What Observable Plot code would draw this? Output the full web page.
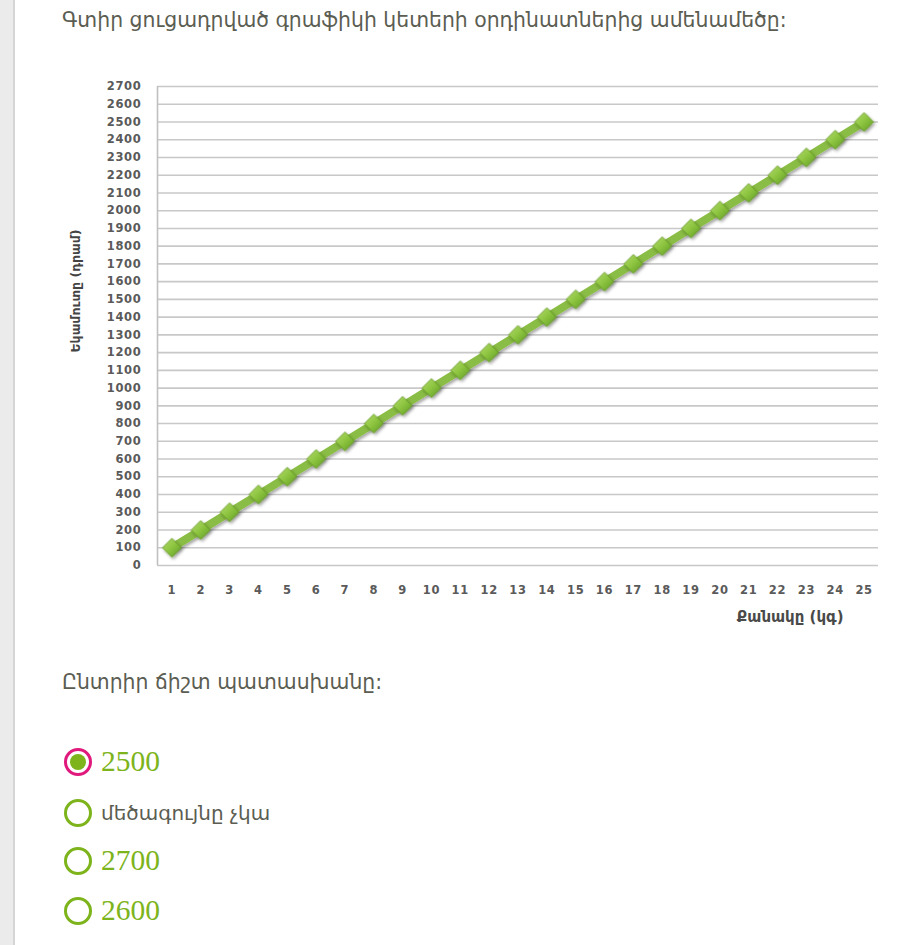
<!DOCTYPE html>
<html><head><meta charset="utf-8">
<script src="https://cdn.jsdelivr.net/npm/d3@7"></script>
<script src="https://cdn.jsdelivr.net/npm/@observablehq/plot@0.6"></script>
<style>
body{margin:0;background:#fff;font-family:"DejaVu Sans",sans-serif;}
#page{position:relative;width:901px;height:945px;overflow:hidden;background:#fff;}
#strip{position:absolute;left:0;top:0;width:13px;height:945px;background:#ebebeb;border-right:2px solid #d6d6d6;}
.txt{position:absolute;color:#5b5d52;white-space:nowrap;line-height:1;}
#chart{position:absolute;left:50px;top:70px;}
.opt{position:absolute;left:64px;height:30px;display:flex;align-items:center;}
.radio{width:22px;height:22px;border:3px solid #7db41c;border-radius:50%;}
.radio.sel{width:16px;height:16px;border-color:#e0197d;padding:3px;background:#7db41c;background-clip:content-box;}
.lab{margin-left:9px;line-height:1;}
.num{font-family:"Liberation Serif",serif;font-size:29.5px;color:#7db41c;}
.word{font-size:20px;color:#5b5d52;}
</style></head>
<body><div id="page">
<div id="strip"></div>
<div class="txt" id="title" style="left:62px;top:10px;font-size:20.4px;">Գտիր ցուցադրված գրաֆիկի կետերի օրդինատներից ամենամեծը:</div>
<div id="chart"></div>
<div class="txt" style="left:62px;top:672px;font-size:20.4px;">Ընտրիր ճիշտ պատասխանը:</div>
<div class="opt" style="top:747px;"><div class="radio sel"></div><span class="lab num">2500</span></div>
<div class="opt" style="top:798px;"><div class="radio"></div><span class="lab word">մեծագույնը չկա</span></div>
<div class="opt" style="top:846px;"><div class="radio"></div><span class="lab num">2700</span></div>
<div class="opt" style="top:896px;"><div class="radio"></div><span class="lab num">2600</span></div>
</div>
<script>
const quantities = [1,2,3,4,5,6,7,8,9,10,11,12,13,14,15,16,17,18,19,20,21,22,23,24,25];
const incomes = [100,200,300,400,500,600,700,800,900,1000,1100,1200,1300,1400,1500,1600,1700,1800,1900,2000,2100,2200,2300,2400,2500];
const yTicks = [0,100,200,300,400,500,600,700,800,900,1000,1100,1200,1300,1400,1500,1600,1700,1800,1900,2000,2100,2200,2300,2400,2500,2600,2700];
const xLabel = "Քանակը (կգ)";
const yLabel = "Եկամուտը (դրամ)";

const data = quantities.map((q, i) => ({q, v: incomes[i]}));

const chart = Plot.plot({
  width: 840,
  height: 570,
  marginTop: 16,
  marginBottom: 75,
  marginLeft: 107,
  marginRight: 12,
  style: {fontFamily: "DejaVu Sans, sans-serif", background: "transparent", overflow: "visible"},
  x: {type: "linear", domain: [0.5, 25.5]},
  y: {domain: [0, 2700]},
  marks: [
    Plot.gridY(yTicks, {stroke: "#c8c8c8", strokeOpacity: 1, strokeWidth: 1.6}),
    Plot.ruleX([0.5], {stroke: "#c0c0c0", strokeWidth: 1.6}),
    Plot.axisY(yTicks, {tickSize: 0, tickPadding: 16, fontSize: 11.5, fontWeight: "bold", fill: "#5a5a5a", label: null, tickFormat: d => String(d)}),
    Plot.axisX(quantities, {tickSize: 0, tickPadding: 20, fontSize: 11.5, fontWeight: "bold", fill: "#5a5a5a", label: null, tickFormat: d => String(d)}),
    Plot.text([xLabel], {frameAnchor: "bottom-right", textAnchor: "end", dx: -35, dy: 56, fontSize: 15, fontWeight: "bold", fill: "#4a4a4a", text: d => d}),
    Plot.text([yLabel], {frameAnchor: "left", textAnchor: "middle", rotate: -90, dx: -82, dy: -35, fontSize: 12.5, fontWeight: "bold", fill: "#444", text: d => d}),
    Plot.line(data, {x: "q", y: "v", stroke: "#8abd44", strokeWidth: 8, strokeLinecap: "round"}),
    Plot.dot(data, {x: "q", y: "v", symbol: "diamond2", r: 8.5, fill: "#8cc43f", stroke: "#5f9422", strokeWidth: 0.8})
  ]
});

const svg = d3.select(chart);
svg.selectAll("g[aria-label='y-axis tick label'] text, g[aria-label='x-axis tick label'] text").style("letter-spacing", "0.7px");
const defs = svg.insert("defs", ":first-child");
const g = defs.append("linearGradient").attr("id", "dg").attr("x1", "0").attr("y1", "0").attr("x2", "1").attr("y2", "1");
g.append("stop").attr("offset", "0%").attr("stop-color", "#b5dc6e");
g.append("stop").attr("offset", "50%").attr("stop-color", "#8cc43f");
g.append("stop").attr("offset", "100%").attr("stop-color", "#5f9a24");
const f = defs.append("filter").attr("id", "sh").attr("x", "-50%").attr("y", "-50%").attr("width", "200%").attr("height", "200%");
f.append("feDropShadow").attr("dx", 1.5).attr("dy", 2).attr("stdDeviation", 1.5).attr("flood-color", "#000").attr("flood-opacity", 0.35);
svg.selectAll("g[aria-label='dot'] path").attr("fill", "url(#dg)");
svg.selectAll("g[aria-label='dot']").attr("filter", "url(#sh)").attr("fill", null);
svg.selectAll("g[aria-label='line']").attr("filter", "url(#sh)");

document.getElementById("chart").appendChild(chart);
</script>
</body></html>
